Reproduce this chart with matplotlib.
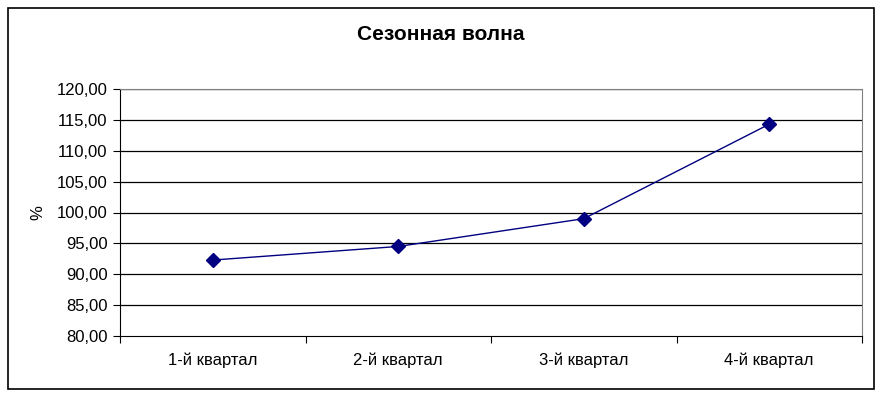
import matplotlib.pyplot as plt
from matplotlib.patches import Rectangle

plt.rcParams['font.family'] = ['Liberation Sans', 'DejaVu Sans']

quarters = ['1-й квартал', '2-й квартал', '3-й квартал', '4-й квартал']
values = [92.3, 94.5, 99.0, 114.3]
y_ticks = [80, 85, 90, 95, 100, 105, 110, 115, 120]

fig = plt.figure(figsize=(8.82, 3.97), dpi=100)
ax = fig.add_axes([120 / 882, 61 / 397, 742 / 882, 247 / 397])

# outer chart frame
fig.patches.append(Rectangle((8 / 882, 8 / 397), 866 / 882, 381 / 397,
                             transform=fig.transFigure, fill=False,
                             edgecolor='black', linewidth=1.2))

x = [i + 0.5 for i in range(len(quarters))]
ax.plot(x, values, color='#000080', linewidth=1, marker='D', markersize=7,
        markerfacecolor='#000080', markeredgecolor='#000080', zorder=3)

ax.set_xlim(0, 4)
ax.set_ylim(80, 120)
ax.set_yticks(y_ticks)
ax.set_yticklabels([f'{v:.2f}'.replace('.', ',') for v in y_ticks], fontsize=12)
for v in y_ticks[1:]:
    ax.axhline(v, color='black', linewidth=0.9, zorder=1)

ax.set_xticks(range(5))
ax.set_xticklabels([])
ax.set_xticks(x, minor=True)
ax.set_xticklabels(quarters, minor=True, fontsize=12)
ax.tick_params(axis='x', which='minor', length=0, pad=12)
ax.tick_params(axis='x', which='major', length=5, direction='out')
ax.tick_params(axis='y', length=5, direction='out', pad=4)

for side in ['top', 'right']:
    ax.spines[side].set_color('#808080')
ax.spines['left'].set_color('black')
ax.spines['bottom'].set_color('black')

ax.set_ylabel('%', fontsize=12, labelpad=8)
fig.text(0.5, 1 - 34 / 397, 'Сезонная волна', ha='center', va='center',
         fontsize=15, fontweight='bold')

fig.savefig('out.png', dpi=100)
